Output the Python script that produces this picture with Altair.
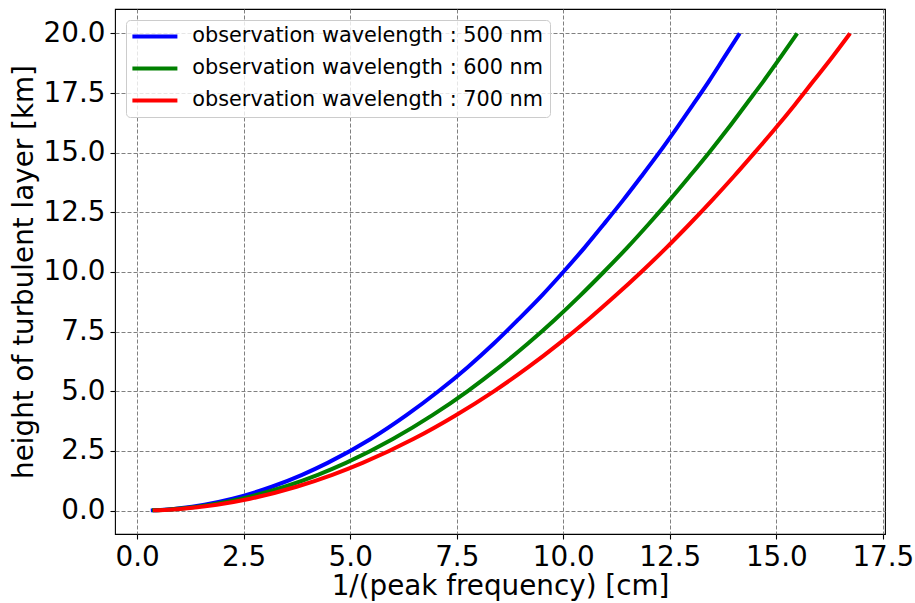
import altair as alt
import pandas as pd

heights = [0.01, 0.05, 0.1, 0.25, 0.5, 1, 1.5, 2, 3, 4, 5, 6, 7, 8, 9, 10,
           11, 12, 13, 14, 15, 16, 17, 18, 19, 20]
x500 = [0.32, 0.71, 1.00, 1.58, 2.24, 3.16, 3.87, 4.47, 5.48, 6.32, 7.07, 7.75, 8.37,
        8.94, 9.49, 10.00, 10.49, 10.95, 11.40, 11.83, 12.25, 12.65, 13.04, 13.42, 13.78, 14.14]
x600 = [0.35, 0.77, 1.10, 1.73, 2.45, 3.46, 4.24, 4.90, 6.00, 6.93, 7.75, 8.49, 9.17,
        9.80, 10.39, 10.95, 11.49, 12.00, 12.49, 12.96, 13.42, 13.86, 14.28, 14.70, 15.10, 15.49]
x700 = [0.37, 0.84, 1.18, 1.87, 2.65, 3.74, 4.58, 5.29, 6.48, 7.48, 8.37, 9.17, 9.90,
        10.58, 11.22, 11.83, 12.41, 12.96, 13.49, 14.00, 14.49, 14.97, 15.43, 15.87, 16.31, 16.73]
labels = ["observation wavelength : 500 nm",
          "observation wavelength : 600 nm",
          "observation wavelength : 700 nm"]
colors = ["#0000ff", "#008000", "#ff0000"]
x_ticks = [0, 2.5, 5, 7.5, 10, 12.5, 15, 17.5]
y_ticks = [0, 2.5, 5, 7.5, 10, 12.5, 15, 17.5, 20]

rows = []
for lab, xs in zip(labels, [x500, x600, x700]):
    for i, (h, x) in enumerate(zip(heights, xs)):
        rows.append({"series": lab, "x": x, "h": h, "i": i})
df = pd.DataFrame(rows)

FONT = "DejaVu Sans"

chart = alt.Chart(df).mark_line(strokeWidth=4, interpolate="monotone").encode(
    x=alt.X("x:Q", scale=alt.Scale(domain=[-0.52, 17.55], nice=False, zero=False),
            axis=alt.Axis(values=x_ticks, format=".1f",
                          title="1/(peak frequency) [cm]", titlePadding=2,
                          labelPadding=4)),
    y=alt.Y("h:Q", scale=alt.Scale(domain=[-0.98, 21.02], nice=False, zero=False),
            axis=alt.Axis(values=y_ticks, format=".1f",
                          title="height of turbulent layer [km]", titlePadding=5,
                          labelPadding=5)),
    color=alt.Color("series:N", scale=alt.Scale(domain=labels, range=colors),
                    legend=alt.Legend(title=None, orient="none", legendX=11, legendY=11,
                                      symbolType="M-2.8125,0H2.8125", symbolSize=256,
                                      symbolStrokeWidth=4, symbolOffset=12.5,
                                      labelFontSize=20.8, labelFont=FONT, labelColor="black",
                                      labelOffset=27, rowPadding=10, padding=6,
                                      strokeColor="#cccccc", fillColor="rgba(255,255,255,0.8)",
                                      cornerRadius=4, labelLimit=600)),
    order="i:Q",
).properties(
    width=770, height=525,
    autosize=alt.AutoSizeParams(type="none"),
    padding={"left": 115, "top": 9, "right": 30, "bottom": 69},
).configure_view(
    stroke="black", strokeWidth=1.1
).configure_axis(
    labelFont=FONT, titleFont=FONT, labelFontSize=27.8, titleFontSize=27.8,
    labelColor="black", titleColor="black", titleFontWeight="normal",
    domain=False, tickColor="black", tickSize=5, tickWidth=1.1,
    grid=True, gridColor="#808080", gridDash=[4, 2], gridWidth=1, gridOpacity=1,
)

chart.save("out.html", embed_options={"renderer": "svg", "actions": False})
